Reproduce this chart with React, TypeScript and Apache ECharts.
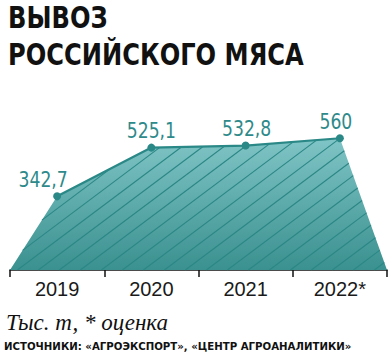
import React, { useEffect, useRef } from "react";
import * as echarts from "echarts";

const years = ["2019", "2020", "2021", "2022*"];
const values = [342.7, 525.1, 532.8, 560];
const yMin = 67;
const yMax = 707;
const titleText = "ВЫВОЗ\nРОССИЙСКОГО МЯСА";
const unitText = "Тыс. т, * оценка";
const sourceText = "ИСТОЧНИКИ: «АГРОЭКСПОРТ», «ЦЕНТР АГРОАНАЛИТИКИ»";
const labelDx = [-14, 0, 1, -4];

const COND = "'DejaVu Sans Condensed', 'DejaVu Sans', sans-serif";
const TEAL = "#2a8886";

export default function App() {
  const ref = useRef<HTMLDivElement>(null);
  useEffect(() => {
    document.body.style.margin = "0";
    if (!ref.current) return;
    const chart = echarts.init(ref.current, null, { renderer: "svg" });
    const option: any = {
      animation: false,
      backgroundColor: "#ffffff",
      grid: { left: 10, right: 4, top: 99, bottom: 90 },
      xAxis: [
        {
          type: "category",
          data: years,
          boundaryGap: true,
          axisLine: { lineStyle: { color: "#111111", width: 1.5 } },
          axisTick: { show: true, length: 7, lineStyle: { color: "#111111", width: 1.5 } },
          axisLabel: {
            color: "#1a1a1a",
            fontFamily: "'Liberation Sans', Arial, sans-serif",
            fontSize: 20,
            margin: 9,
          },
        },
        { type: "value", min: -0.5, max: years.length - 0.5, show: false },
      ],
      yAxis: { type: "value", min: yMin, max: yMax, show: false },
      graphic: [
        {
          type: "text",
          x: 8,
          y: 0,
          scaleX: 0.896,
          style: {
            text: titleText,
            font: `bold 30px ${COND}`,
            lineHeight: 36.5,
            fill: "#111111",
            verticalAlign: "top",
          },
        },
        {
          type: "text",
          x: 6,
          y: 311,
          style: {
            text: unitText,
            font: "italic 23px 'Liberation Serif', 'DejaVu Serif', serif",
            fill: "#111111",
            verticalAlign: "top",
          },
        },
        {
          type: "text",
          x: 4,
          y: 341,
          scaleX: 1.03,
          style: {
            text: sourceText,
            font: `bold 11px ${COND}`,
            fill: "#111111",
            verticalAlign: "top",
          },
        },
      ],
      series: [
        {
          type: "custom",
          xAxisIndex: 1,
          yAxisIndex: 0,
          clip: false,
          silent: true,
          z: 1,
          data: values.map((v, i) => [i, v]),
          renderItem: (params: any, api: any) => {
            if (params.dataIndex !== 0) return null;
            const pts: number[][] = [
              api.coord([-0.5, yMin]),
              ...values.map((v, i) => api.coord([i, v])),
              api.coord([values.length - 0.5, yMin]),
            ];
            const xs = pts.map((p) => p[0]);
            const ys = pts.map((p) => p[1]);
            const minX = Math.min(...xs);
            const maxX = Math.max(...xs);
            const minY = Math.min(...ys);
            const maxY = Math.max(...ys);
            const t = 0.75;
            const spacing = 21;
            const n = pts.length;
            const lines: any[] = [];
            for (let c = minX - (maxY - minY) / t - 6; c <= maxX; c += spacing) {
              const hits: number[] = [];
              for (let i = 0; i < n; i++) {
                const P = pts[i];
                const Q = pts[(i + 1) % n];
                const dx = Q[0] - P[0];
                const dy = Q[1] - P[1];
                const denom = dx + dy / t;
                if (Math.abs(denom) < 1e-9) continue;
                const u = (c + (maxY - P[1]) / t - P[0]) / denom;
                if (u < 0 || u >= 1) continue;
                const s = (maxY - P[1] - u * dy) / t;
                hits.push(s);
              }
              hits.sort((a, b) => a - b);
              for (let k = 0; k + 1 < hits.length; k += 2) {
                const s0 = hits[k];
                const s1 = hits[k + 1];
                lines.push({
                  type: "line",
                  shape: { x1: c + s0, y1: maxY - t * s0, x2: c + s1, y2: maxY - t * s1 },
                  style: { stroke: "#2b8785", lineWidth: 1.1 },
                });
              }
            }
            return {
              type: "group",
              children: [
                {
                  type: "polygon",
                  shape: { points: pts },
                  style: {
                    fill: new echarts.graphic.LinearGradient(0, 0, 0, 1, [
                      { offset: 0, color: "#80c4c6" },
                      { offset: 1, color: "#3a918f" },
                    ]),
                  },
                },
                ...lines,
              ],
            };
          },
        },
        {
          type: "line",
          xAxisIndex: 0,
          yAxisIndex: 0,
          z: 3,
          data: values,
          symbol: "circle",
          symbolSize: 8,
          lineStyle: { color: TEAL, width: 2.2 },
          itemStyle: { color: TEAL },
          label: { show: false },
        },
        {
          type: "custom",
          xAxisIndex: 1,
          yAxisIndex: 0,
          clip: false,
          silent: true,
          z: 4,
          data: values.map((v, i) => [i, v]),
          renderItem: (params: any, api: any) => {
            const i = params.dataIndex;
            const p = api.coord([api.value(0), api.value(1)]);
            return {
              type: "text",
              x: p[0] + labelDx[i],
              y: p[1] - 6,
              scaleX: 0.87,
              style: {
                text: String(values[i]).replace(".", ","),
                font: `22px ${COND}`,
                fill: "#2e8a8a",
                align: "center",
                verticalAlign: "bottom",
              },
            };
          },
        },
      ],
    };
    chart.setOption(option);
    return () => chart.dispose();
  }, []);
  return <div ref={ref} style={{ width: 391, height: 360 }} />;
}
